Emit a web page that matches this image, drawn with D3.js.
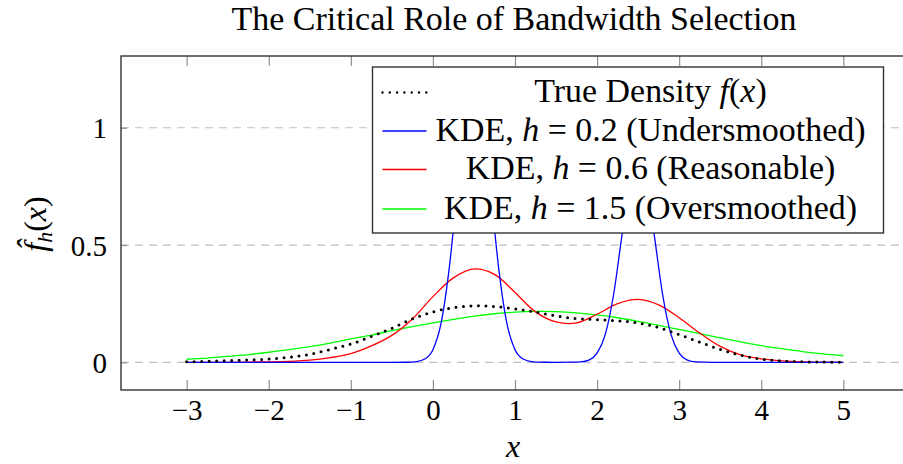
<!DOCTYPE html>
<html>
<head>
<meta charset="utf-8">
<script src="https://cdn.jsdelivr.net/npm/d3@7"></script>
<style>
  body { margin: 0; background: #fff; }
  svg { display: block; }
  text { font-family: "Liberation Serif", "Times New Roman", serif; fill: #000; }
</style>
</head>
<body>
<div id="chart"></div>
<script>
// x grid for the smooth curves
var xGrid = [-3, -2.75, -2.5, -2.25, -2, -1.75, -1.5, -1.25, -1, -0.75, -0.5, -0.25,
             0, 0.25, 0.5, 0.75, 1, 1.25, 1.5, 1.75, 2, 2.25, 2.5, 2.75,
             3, 3.25, 3.5, 3.75, 4, 4.25, 4.5, 4.75, 5];

var trueDensity = [0.002, 0.004, 0.007, 0.010, 0.014, 0.022, 0.034, 0.055, 0.078, 0.110, 0.145, 0.185,
                   0.215, 0.233, 0.241, 0.238, 0.228, 0.214, 0.198, 0.186, 0.182, 0.177, 0.168, 0.148,
                   0.118, 0.086, 0.055, 0.030, 0.014, 0.006, 0.002, 0.001, 0.000];

var kdeReasonable = [0.000, 0.000, 0.000, 0.001, 0.002, 0.004, 0.009, 0.020, 0.037, 0.070, 0.115, 0.185,
                     0.280, 0.360, 0.398, 0.375, 0.298, 0.215, 0.172, 0.168, 0.205, 0.250, 0.268, 0.245,
                     0.190, 0.125, 0.068, 0.032, 0.015, 0.006, 0.002, 0.001, 0.000];

var kdeOver = [0.013, 0.018, 0.025, 0.033, 0.043, 0.054, 0.067, 0.082, 0.100, 0.116, 0.135, 0.152,
               0.168, 0.183, 0.197, 0.207, 0.214, 0.217, 0.216, 0.211, 0.202, 0.190, 0.175, 0.158,
               0.140, 0.122, 0.104, 0.087, 0.071, 0.058, 0.046, 0.036, 0.028];

// the narrow-bandwidth curve needs a finer grid
var xFine = [-3, -2, -1, -0.5, -0.3, -0.2, -0.1, 0, 0.1, 0.2, 0.3, 0.4, 0.5, 0.6, 0.7, 0.8, 0.9,
             1, 1.1, 1.2, 1.3, 1.5, 1.7, 1.8, 1.9, 2, 2.1, 2.2, 2.3, 2.4, 2.5, 2.6, 2.7, 2.8, 2.9,
             3, 3.1, 3.2, 3.4, 4, 5];

var kdeUnder = [0, 0, 0, 0, 0.0004, 0.003, 0.014, 0.054, 0.168, 0.405, 0.745, 1.08, 1.22, 1.08, 0.745, 0.405, 0.168,
                0.054, 0.014, 0.003, 0.0005, 0, 0.0005, 0.002, 0.0097, 0.039, 0.119, 0.286, 0.534, 0.776, 0.88, 0.776, 0.534, 0.286, 0.119,
                0.039, 0.0097, 0.002, 0, 0, 0];

var xTicks = [-3, -2, -1, 0, 1, 2, 3, 4, 5];
var yTicks = [0, 0.5, 1];
var legendLabels = ["True Density", "KDE, h = 0.2 (Undersmoothed)", "KDE, h = 0.6 (Reasonable)", "KDE, h = 1.5 (Oversmoothed)"];

var svgWidth = 903;
var svgHeight = 464;
var margin = { top: 56, left: 121 };
var width = 788;
var height = 334;

var svg = d3.select("#chart").append("svg")
    .attr("width", svgWidth)
    .attr("height", svgHeight);

var chartGroup = svg.append("g")
    .attr("transform", `translate(${margin.left}, ${margin.top})`);

var xScale = d3.scaleLinear().domain([-3.8, 5.8]).range([0, width]);
var yScale = d3.scaleLinear().domain([-0.118, 1.306]).range([height, 0]);

function fitText(sel, target) {
    var w = sel.node().getComputedTextLength();
    var fs = parseFloat(sel.attr("font-size"));
    sel.attr("font-size", fs * target / w);
    return fs * target / w;
}

// grid
chartGroup.selectAll("line.grid")
    .data(yTicks)
    .enter().append("line")
    .attr("class", "grid")
    .attr("x1", 0).attr("x2", width)
    .attr("y1", d => yScale(d)).attr("y2", d => yScale(d))
    .attr("stroke", "#c0c0c0")
    .attr("stroke-width", 1.2)
    .attr("stroke-dasharray", "8,6");

// axes
var bottomAxis = d3.axisBottom(xScale).tickValues(xTicks).tickSizeInner(-10).tickSizeOuter(0).tickPadding(9);
var topAxis = d3.axisTop(xScale).tickValues(xTicks).tickSizeInner(-10).tickSizeOuter(0).tickFormat("");
var leftAxis = d3.axisLeft(yScale).tickValues(yTicks).tickSizeInner(-6).tickSizeOuter(0).tickPadding(14)
    .tickFormat(d3.format("~g"));

var xAxis = chartGroup.append("g")
    .attr("transform", `translate(0, ${height})`)
    .call(bottomAxis);
var xAxisTop = chartGroup.append("g").call(topAxis);
var yAxis = chartGroup.append("g").call(leftAxis);

[xAxis, xAxisTop, yAxis].forEach(function(a) {
    a.select(".domain").remove();
    a.selectAll(".tick line").attr("stroke", "#909090").attr("stroke-width", 1.2);
    a.selectAll("text")
        .attr("font-family", "Liberation Serif")
        .attr("font-size", 29)
        .attr("fill", "#000");
});
yAxis.selectAll("text").attr("dy", "0.35em");

// clip
chartGroup.append("clipPath").attr("id", "plotClip")
    .append("rect").attr("width", width).attr("height", height);

var plotArea = chartGroup.append("g").attr("clip-path", "url(#plotClip)");

var smoothLine = d3.line()
    .x(d => xScale(d[0]))
    .y(d => yScale(d[1]))
    .curve(d3.curveCatmullRom.alpha(0.5));

var sharpLine = d3.line()
    .x(d => xScale(d[0]))
    .y(d => yScale(d[1]))
    .curve(d3.curveMonotoneX);

var series = [
    { x: xGrid, y: kdeOver, color: "#00ff00", gen: smoothLine },
    { x: xGrid, y: kdeReasonable, color: "#ff0000", gen: smoothLine },
    { x: xFine, y: kdeUnder, color: "#0000ff", gen: sharpLine }
];

series.forEach(function(s) {
    plotArea.append("path")
        .datum(s.x.map((v, i) => [v, s.y[i]]))
        .attr("fill", "none")
        .attr("stroke", s.color)
        .attr("stroke-width", 1.3)
        .attr("d", s.gen);
});

plotArea.append("path")
    .datum(xGrid.map((v, i) => [v, trueDensity[i]]))
    .attr("fill", "none")
    .attr("stroke", "#000")
    .attr("stroke-width", 3)
    .attr("stroke-linecap", "round")
    .attr("stroke-dasharray", "0,7.5")
    .attr("d", smoothLine);

// frame
chartGroup.append("rect")
    .attr("width", width).attr("height", height)
    .attr("fill", "none")
    .attr("stroke", "#333")
    .attr("stroke-width", 1.4);

// legend
var legend = svg.append("g").attr("transform", "translate(372.5, 67)");
legend.append("rect")
    .attr("width", 511).attr("height", 166)
    .attr("fill", "#fff")
    .attr("stroke", "#333")
    .attr("stroke-width", 1.4);

var rowY = [25.5, 64, 102.5, 142];
var rowColors = ["#000000", "#0000ff", "#ff0000", "#00ff00"];

rowY.forEach(function(ry, i) {
    var l = legend.append("line")
        .attr("x1", 10).attr("x2", 54)
        .attr("y1", ry).attr("y2", ry)
        .attr("stroke", rowColors[i]);
    if (i === 0) {
        l.attr("stroke-width", 2.4).attr("stroke-linecap", "round").attr("stroke-dasharray", "0,7.3");
    } else {
        l.attr("stroke-width", 1.3);
    }
});

var legendTexts = [];
rowY.forEach(function(ry, i) {
    var t = legend.append("text")
        .attr("x", 278)
        .attr("y", ry + 9.5)
        .attr("text-anchor", "middle")
        .attr("font-size", 26);
    if (i === 0) {
        t.append("tspan").text("True Density ");
        t.append("tspan").attr("font-style", "italic").text("f");
        t.append("tspan").text("(");
        t.append("tspan").attr("font-style", "italic").text("x");
        t.append("tspan").text(")");
    } else {
        var label = legendLabels[i];
        var k = label.indexOf("h");
        t.append("tspan").text(label.slice(0, k));
        t.append("tspan").attr("font-style", "italic").text("h");
        t.append("tspan").text(label.slice(k + 1));
    }
    legendTexts.push(t);
});
var legendSize = fitText(legendTexts[1], 430);
legendTexts.forEach(t => t.attr("font-size", legendSize));

// title
var title = svg.append("text")
    .attr("x", 514)
    .attr("y", 30)
    .attr("text-anchor", "middle")
    .attr("font-size", 26)
    .text("The Critical Role of Bandwidth Selection");
fitText(title, 565);

// axis labels
svg.append("text")
    .attr("x", 513)
    .attr("y", 457)
    .attr("text-anchor", "middle")
    .attr("font-size", 32)
    .attr("font-style", "italic")
    .text("x");

var yLabel = svg.append("text")
    .attr("transform", "translate(46, 224) rotate(-90)")
    .attr("text-anchor", "middle")
    .attr("font-size", 32);
yLabel.append("tspan").attr("font-style", "italic").text("f\u0302");
yLabel.append("tspan").attr("font-style", "italic").attr("font-size", 22).attr("dy", 6).text("h");
yLabel.append("tspan").attr("dy", -6).text("(");
yLabel.append("tspan").attr("font-style", "italic").text("x");
yLabel.append("tspan").text(")");
</script>
</body>
</html>
